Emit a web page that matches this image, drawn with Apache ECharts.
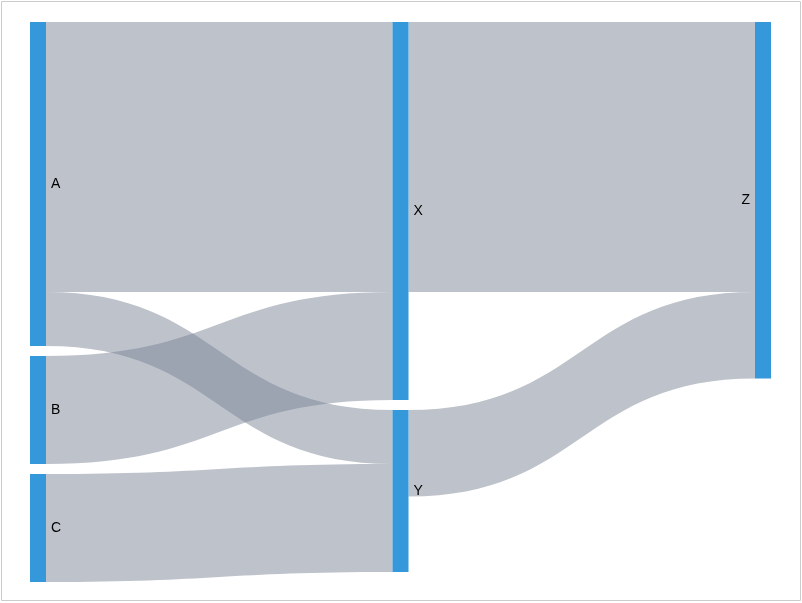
<!DOCTYPE html>
<html>
<head>
<meta charset="utf-8">
<script src="https://cdn.jsdelivr.net/npm/echarts@6/dist/echarts.min.js"></script>
<style>
html,body{margin:0;padding:0;background:#fff;}
#chart{width:802px;height:603px;}
</style>
</head>
<body>
<div id="chart"></div>
<script>
const nodeNames = ['A', 'B', 'C', 'X', 'Y', 'Z'];
const linkSources = ['A', 'A', 'B', 'C', 'X', 'Y'];
const linkTargets = ['X', 'Y', 'X', 'Y', 'Z', 'Z'];
const linkValues = [5, 1, 2, 2, 5, 1.6];

const chart = echarts.init(document.getElementById('chart'), null, {renderer: 'canvas'});

const nodes = nodeNames.map(function (n) {
  const item = {name: n};
  if (n === 'Z') item.label = {position: 'left'};
  return item;
});
const links = linkValues.map(function (v, i) {
  return {source: linkSources[i], target: linkTargets[i], value: v};
});

chart.setOption({
  animation: false,
  graphic: [{
    type: 'rect',
    shape: {x: 1.5, y: 1.5, width: 799, height: 599},
    style: {fill: 'none', stroke: '#cccccc', lineWidth: 1},
    silent: true
  }],
  series: [{
    type: 'sankey',
    left: 30,
    top: 22,
    right: 31,
    bottom: 21,
    nodeWidth: 16,
    nodeGap: 10,
    layoutIterations: 0,
    draggable: false,
    data: nodes,
    links: links,
    itemStyle: {color: '#3498db', borderWidth: 0},
    lineStyle: {color: '#7b8598', opacity: 0.5, curveness: 0.5},
    label: {
      show: true,
      position: 'right',
      distance: 5,
      color: '#000',
      fontSize: 14,
      fontFamily: 'Liberation Sans, Arial, sans-serif'
    },
    emphasis: {disabled: true}
  }]
});
</script>
</body>
</html>
